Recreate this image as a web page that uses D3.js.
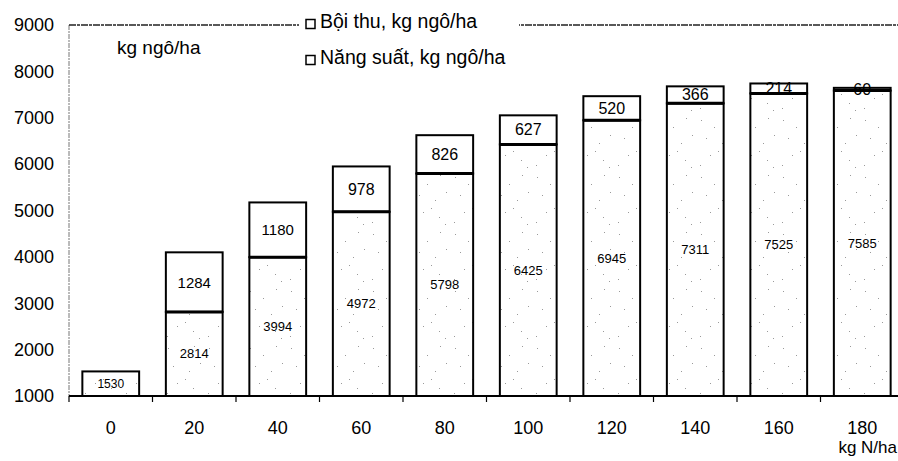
<!DOCTYPE html>
<html>
<head>
<meta charset="utf-8">
<script src="https://cdn.jsdelivr.net/npm/d3@7"></script>
<style>
  html, body { margin: 0; padding: 0; background: #fff; }
  svg { display: block; }
  text { font-family: Arial, "Liberation Sans", Helvetica, sans-serif; fill: #000; }
</style>
</head>
<body>
<svg id="chart" width="898" height="461"></svg>
<script>
// ---- data ----
const categories = ["0", "20", "40", "60", "80", "100", "120", "140", "160", "180"];
const yieldValues = [1530, 2814, 3994, 4972, 5798, 6425, 6945, 7311, 7525, 7585];   // Năng suất
const gainValues  = [0, 1284, 1180, 978, 826, 627, 520, 366, 214, 60];              // Bội thu
const yTicks = [1000, 2000, 3000, 4000, 5000, 6000, 7000, 8000, 9000];
const legendLabels = ["Bội thu, kg ngô/ha", "Năng suất, kg ngô/ha"];
const yAxisTitle = "kg ngô/ha";
const xAxisTitle = "kg N/ha";

(function () {
const rows = categories.map((c, i) => ({ c, y: yieldValues[i], g: gainValues[i] }));

const svg = d3.select("#chart");
const pLeft = 69, pRight = 904, pTop = 25, pBottom = 396;

const x = d3.scaleBand().domain(categories).range([pLeft, pRight])
  .paddingInner(0.32).paddingOuter(0.16);
const y = d3.scaleLinear().domain([1000, 9000]).range([pBottom, pTop]);

// stipple pattern for yield segments
const defs = svg.append("defs");
const pat = defs.append("pattern").attr("id", "stip")
  .attr("patternUnits", "userSpaceOnUse").attr("width", 41).attr("height", 57);
pat.append("rect").attr("width", 41).attr("height", 57).attr("fill", "#fff");
[[4,6],[17,13],[30,4],[9,24],[25,29],[36,21],[13,41],[29,46],[3,51],[21,37],[35,53]].forEach(p => {
  pat.append("rect").attr("x", p[0]).attr("y", p[1]).attr("width", 1).attr("height", 1).attr("fill", "#9a9a9a");
});

// frame: left axis (light dashed) and top line
svg.append("line").attr("x1", pLeft).attr("x2", pLeft).attr("y1", pTop).attr("y2", pBottom)
  .attr("stroke", "#777").attr("stroke-width", 1).attr("stroke-dasharray", "5,1,2,1");
svg.append("line").attr("x1", pLeft).attr("x2", 898).attr("y1", pTop).attr("y2", pTop)
  .attr("stroke", "#222").attr("stroke-width", 1.3).attr("stroke-dasharray", "7,1,3,1");

// y axis labels
const yAxis = d3.axisLeft(y).tickValues(yTicks).tickSize(0).tickPadding(0).tickFormat(d3.format("d"));
const gy = svg.append("g").attr("transform", `translate(${pLeft - 15},0)`).call(yAxis);
gy.select(".domain").remove();
gy.selectAll("text").style("font-size", "18px").style("font-family", "Arial, 'Liberation Sans', sans-serif").attr("fill", "#000");

// bars
const bars = svg.append("g");
const bw = x.bandwidth();
bars.selectAll("rect.yield").data(rows).join("rect").attr("class", "yield")
  .attr("x", d => x(d.c)).attr("width", bw)
  .attr("y", d => y(d.y)).attr("height", d => y(1000) - y(d.y))
  .attr("fill", "url(#stip)").attr("stroke", "#000").attr("stroke-width", 2);
bars.selectAll("rect.gain").data(rows.filter(d => d.g > 0)).join("rect").attr("class", "gain")
  .attr("x", d => x(d.c)).attr("width", bw)
  .attr("y", d => y(d.y + d.g)).attr("height", d => y(d.y) - y(d.y + d.g))
  .attr("fill", "#fff").attr("stroke", "#000").attr("stroke-width", 2);
bars.selectAll("line.div").data(rows.filter(d => d.g > 0)).join("line").attr("class", "div")
  .attr("x1", d => x(d.c)).attr("x2", d => x(d.c) + bw)
  .attr("y1", d => y(d.y)).attr("y2", d => y(d.y))
  .attr("stroke", "#000").attr("stroke-width", 3);

// value labels
bars.selectAll("text.yl").data(rows).join("text").attr("class", "yl")
  .attr("x", d => x(d.c) + bw / 2).attr("y", d => (y(1000) + y(d.y)) / 2)
  .attr("text-anchor", "middle").attr("dominant-baseline", "central")
  .style("font-size", d => d.y < 2000 ? "12px" : "13px")
  .text(d => d.y);
bars.selectAll("text.gl").data(rows.filter(d => d.g > 0)).join("text").attr("class", "gl")
  .attr("x", d => x(d.c) + bw / 2).attr("y", d => (y(d.y) + y(d.y + d.g)) / 2)
  .attr("text-anchor", "middle").attr("dominant-baseline", "central")
  .style("font-size", d => d.g >= 1000 ? "15px" : "16px")
  .text(d => d.g);

// x axis
svg.append("line").attr("x1", pLeft).attr("x2", 898).attr("y1", pBottom).attr("y2", pBottom)
  .attr("stroke", "#000").attr("stroke-width", 2);
const boundaries = categories.map(c => x(c) - x.step() * x.paddingInner() / 2);
svg.selectAll("line.xt").data(boundaries).join("line").attr("class", "xt")
  .attr("x1", d => d).attr("x2", d => d).attr("y1", pBottom).attr("y2", pBottom + 6)
  .attr("stroke", "#000").attr("stroke-width", 1.2);
svg.selectAll("text.xl").data(categories).join("text").attr("class", "xl")
  .attr("x", d => x(d) + bw / 2).attr("y", 434)
  .attr("text-anchor", "middle").style("font-size", "18px").text(d => d);

// axis titles
svg.append("text").attr("x", 117).attr("y", 54).style("font-size", "19px").text(yAxisTitle);
svg.append("text").attr("x", 897).attr("y", 453).attr("text-anchor", "end")
  .style("font-size", "17px").text(xAxisTitle);

// legend
const lg = svg.append("g");
lg.append("rect").attr("x", 299).attr("y", 10).attr("width", 220).attr("height", 62).attr("fill", "#fff");
legendLabels.forEach((t, i) => {
  const by = i === 0 ? 28 : 64;
  lg.append("rect").attr("x", 306).attr("y", by - 8.5).attr("width", 9).attr("height", 9)
    .attr("fill", "#fff").attr("stroke", "#000").attr("stroke-width", 1.5);
  lg.append("text").attr("x", 320).attr("y", by).style("font-size", "19.5px").text(t);
});
})();
</script>
</body>
</html>
